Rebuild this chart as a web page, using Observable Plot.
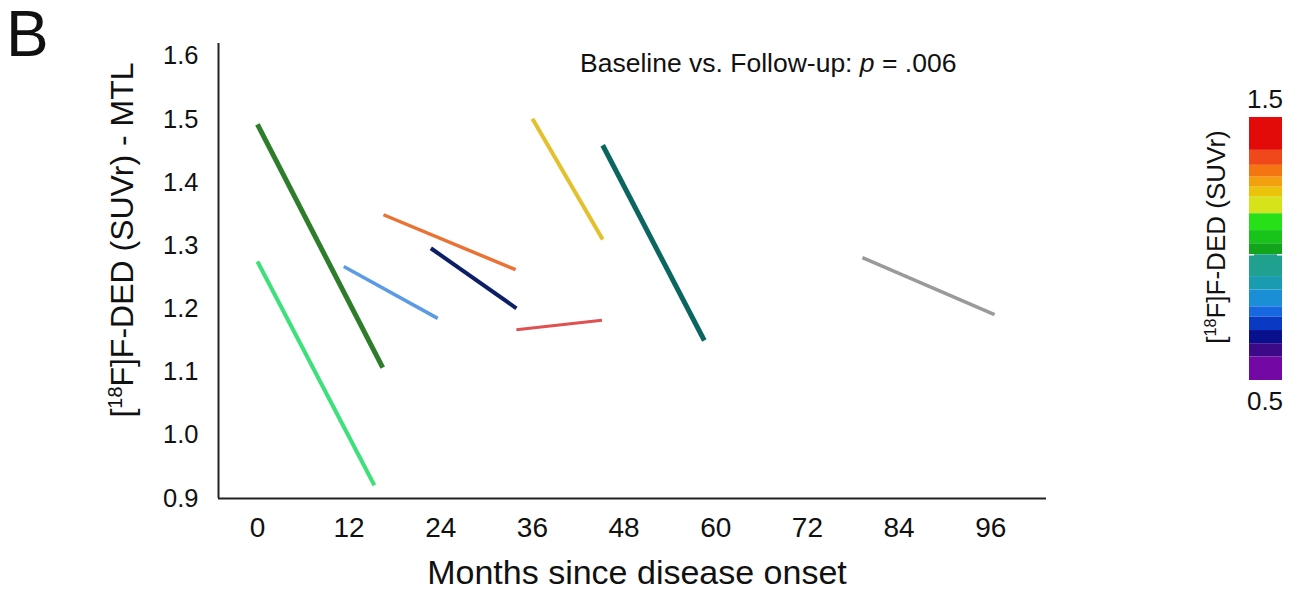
<!DOCTYPE html>
<html>
<head>
<meta charset="utf-8">
<script src="https://cdn.jsdelivr.net/npm/d3@7"></script>
<script src="https://cdn.jsdelivr.net/npm/@observablehq/plot@0.6"></script>
<style>
  html, body { margin: 0; padding: 0; background: #fff; }
  #wrap { position: relative; width: 1295px; height: 590px; font-family: "Liberation Sans", Arial, sans-serif; color: #111; }
  .abs { position: absolute; white-space: nowrap; }
  sup { font-size: 0.62em; vertical-align: 0; position: relative; top: -0.55em; }
</style>
</head>
<body>
<div id="wrap"></div>
<script>
// ---- data ----
const subjects = ["S1", "S2", "S3", "S4", "S5", "S6", "S7", "S8", "S9"];
const subjectColors = ["#2d7d2a", "#3ee07a", "#5a9be3", "#ea7235", "#0b1e66", "#e05050", "#e2c12c", "#0c6660", "#9a9a9a"];
const lineWidths = [5, 4, 3.5, 3.5, 4, 3, 4, 5, 3.5];
const baselineMonth = [0, 0, 11.3, 16.5, 22.7, 33.9, 36.0, 45.2, 79.2];
const followupMonth = [16.4, 15.3, 23.6, 33.8, 33.9, 45.1, 45.2, 58.5, 96.5];
const baselineValue = [1.492, 1.275, 1.267, 1.349, 1.296, 1.167, 1.501, 1.459, 1.281];
const followupValue = [1.107, 0.921, 1.185, 1.262, 1.201, 1.182, 1.310, 1.150, 1.191];

const xTicks = [0, 12, 24, 36, 48, 60, 72, 84, 96];
const yTicks = [0.9, 1.0, 1.1, 1.2, 1.3, 1.4, 1.5, 1.6];
const xDomain = [-5.1, 103.3];
const yDomain = [0.9, 1.62];

// colorbar (SUVr) bands, top to bottom
const cbarUpper = [1.5, 1.375, 1.318, 1.273, 1.235, 1.197, 1.134, 1.07, 1.02, 0.978, 0.895, 0.844, 0.78, 0.741, 0.69, 0.64, 0.589];
const cbarLower = [1.375, 1.318, 1.273, 1.235, 1.197, 1.134, 1.07, 1.02, 0.978, 0.895, 0.844, 0.78, 0.741, 0.69, 0.64, 0.589, 0.5];
const cbarColors = ["#e30a0a", "#f0481a", "#f47512", "#f3a00e", "#eac30a", "#d6e21a", "#28e018", "#18c41a", "#12a51c", "#20a08e", "#199bb0", "#1a8fd6", "#1667e0", "#0a3ac4", "#08108e", "#3c0a86", "#7408a4"];
const cbarDomain = [0.5, 1.5];

const rows = subjects.map((s, i) => ({
  s, x1: baselineMonth[i], x2: followupMonth[i], y1: baselineValue[i], y2: followupValue[i],
  c: subjectColors[i], w: lineWidths[i]
}));
const bands = cbarColors.map((c, i) => ({ lo: cbarLower[i], hi: cbarUpper[i], c }));

const wrap = document.getElementById("wrap");

const main = Plot.plot({
  width: 1295, height: 590,
  marginLeft: 218, marginRight: 249, marginTop: 43, marginBottom: 92,
  style: { fontFamily: "'Liberation Sans', Arial, sans-serif", background: "transparent", overflow: "visible" },
  x: { domain: xDomain },
  y: { domain: yDomain },
  marks: [
    Plot.axisX({ ticks: xTicks, tickSize: 0, tickPadding: 19, label: null, fontSize: 28,
      fontFamily: "'Liberation Sans Narrow', 'Liberation Sans', sans-serif", fill: "#111" }),
    Plot.axisY({ ticks: yTicks, tickSize: 0, tickPadding: 20, label: null, fontSize: 25.5,
      tickFormat: d3.format(".1f"), fill: "#111" }),
    Plot.ruleY([yDomain[0]], { stroke: "#222", strokeWidth: 2 }),
    Plot.ruleX([xDomain[0]], { stroke: "#222", strokeWidth: 2 }),
    Plot.link(rows, { x1: "x1", y1: "y1", x2: "x2", y2: "y2", stroke: "c", strokeWidth: "w",
      strokeLinecap: "butt" })
  ]
});
main.style.position = "absolute"; main.style.left = "0px"; main.style.top = "0px";
wrap.appendChild(main);

const cbar = Plot.plot({
  width: 33, height: 263, margin: 0,
  style: { background: "transparent" },
  x: { domain: [0, 1], axis: null },
  y: { domain: cbarDomain, axis: null },
  marks: [
    Plot.rect(bands, { x1: 0, x2: 1, y1: "lo", y2: "hi", fill: "c" }),
    Plot.ruleY([cbarLower[8]], { stroke: "#ffffff", strokeWidth: 1.5, strokeDasharray: "5,23" })
  ]
});
cbar.style.position = "absolute"; cbar.style.left = "1249px"; cbar.style.top = "117px";
wrap.appendChild(cbar);

function addText(html, css) {
  const d = document.createElement("div");
  d.className = "abs";
  d.innerHTML = html;
  Object.assign(d.style, css);
  wrap.appendChild(d);
  return d;
}
// panel letter
addText("B", { left: "6px", top: "2px", fontSize: "64px", lineHeight: "1" });
// annotation
addText("Baseline vs. Follow-up: <i>p</i> = .006", { left: "580px", top: "50px", fontSize: "26.5px", lineHeight: "1" });
// x label
addText("Months since disease onset", { left: "637px", top: "555px", fontSize: "34px", lineHeight: "1", transform: "translateX(-50%)" });
// y label
addText("[<sup>18</sup>F]F-DED (SUVr) - MTL", { left: "122px", top: "240px", fontSize: "32px", lineHeight: "1",
  transform: "translate(-50%, -50%) rotate(-90deg)" });
// colorbar labels
addText("1.5", { left: "1265px", top: "86px", fontSize: "26px", lineHeight: "1", transform: "translateX(-50%)" });
addText("0.5", { left: "1265px", top: "388px", fontSize: "26px", lineHeight: "1", transform: "translateX(-50%)" });
addText("[<sup>18</sup>F]F-DED (SUVr)", { left: "1216px", top: "237px", fontSize: "26px", lineHeight: "1",
  transform: "translate(-50%, -50%) rotate(-90deg)" });
</script>
</body>
</html>
